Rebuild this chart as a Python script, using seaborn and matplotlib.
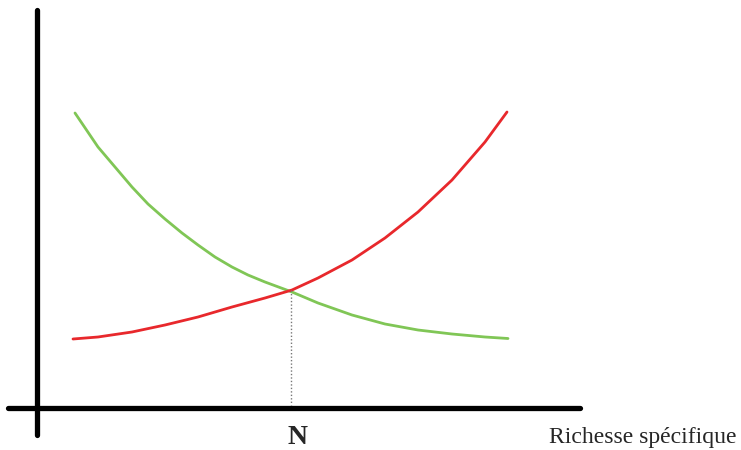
import numpy as np
import pandas as pd
import matplotlib.pyplot as plt
import seaborn as sns

# values (axis origin at the crossing of the two axes)
green_x = [38, 61, 78, 95, 111, 128, 145, 161, 178, 195, 211, 228, 255, 281, 315, 348, 381, 415, 448, 471]
green_y = [295, 261, 241, 221, 204, 189, 175, 163, 151, 141, 133, 126, 116, 105, 93, 84, 78, 74, 71, 69.5]
red_x = [36, 61, 95, 128, 161, 195, 228, 255, 281, 315, 348, 381, 415, 448, 470]
red_y = [69, 71, 76, 83, 91, 101, 110, 118, 130, 148, 170, 196, 228, 266, 296]
n_x = 254
n_y = 118
x_label = "Richesse spécifique"
n_label = "N"

sns.set_style("white")
plt.rcParams['font.family'] = ['Liberation Serif', 'DejaVu Serif']

fig = plt.figure(figsize=(7.41, 4.5), dpi=100)
ax = fig.add_axes([0, 0, 1, 1])

df_green = pd.DataFrame({'x': green_x, 'y': green_y})
df_red = pd.DataFrame({'x': red_x, 'y': red_y})

sns.lineplot(data=df_green, x='x', y='y', ax=ax, color='#80c656', linewidth=2.0, sort=False)
sns.lineplot(data=df_red, x='x', y='y', ax=ax, color='#e8282c', linewidth=2.0, sort=False)

# dotted drop line at the crossing
ax.plot([n_x, n_x], [n_y, 3], color='#777777', linestyle=(0, (1, 1.5)), linewidth=1.0)

# thick hand-drawn style axes
ax.plot([0, 0], [398, -27], color='black', linewidth=3.8, solid_capstyle='round')
ax.plot([-29, 543], [0, 0], color='black', linewidth=3.8, solid_capstyle='round')

ax.text(n_x + 6, -30, n_label, fontsize=20, fontweight='bold', ha='center', va='center')
ax.text(512, -29, x_label, fontsize=17, ha='left', va='center')

ax.set_xlim(-37, 704)
ax.set_ylim(-42, 408)
ax.axis('off')

fig.savefig('out.png', dpi=100)
